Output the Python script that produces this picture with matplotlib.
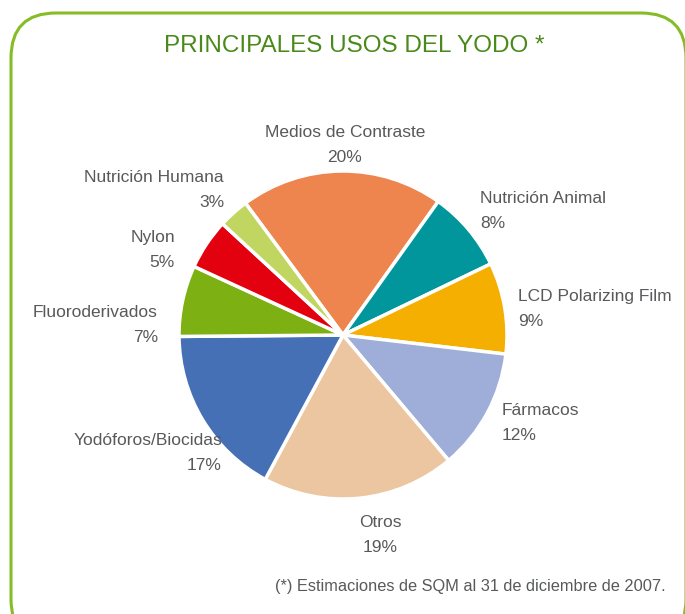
import matplotlib
matplotlib.use("Agg")
import matplotlib.pyplot as plt
from matplotlib.patches import FancyBboxPatch

# data
usos = [
    "Medios de Contraste",
    "Nutrición Animal",
    "LCD Polarizing Film",
    "Fármacos",
    "Otros",
    "Yodóforos/Biocidas",
    "Fluoroderivados",
    "Nylon",
    "Nutrición Humana",
]
porcentajes = [20, 8, 9, 12, 19, 17, 7, 5, 3]
colores = [
    "#EE854E", "#00969B", "#F5AF00", "#9EAED8", "#EBC6A0",
    "#4670B5", "#7CB013", "#E3000F", "#C0D660",
]

# label anchors (pixels, from top-left) and alignment
label_pos = [
    (345, 145, "center"),
    (480, 211, "left"),
    (518, 309, "left"),
    (502, 423, "left"),
    (380, 535, "center"),
    (222, 453, "right"),
    (158, 325, "right"),
    (175, 250, "right"),
    (224, 190, "right"),
]

W, H = 685, 614
fnt = ["Liberation Sans", "DejaVu Sans"]
gris = "#58595B"

fig = plt.figure(figsize=(W / 100, H / 100), dpi=100)
ax = fig.add_axes([0, 0, 1, 1])

ax.pie(
    porcentajes,
    colors=colores,
    startangle=126.5,
    counterclock=False,
    center=(343, H - 335),
    radius=164,
    wedgeprops=dict(edgecolor="white", linewidth=2.5),
)

for name, v, (x, y, ha) in zip(usos, porcentajes, label_pos):
    ax.text(x, H - y, f"{name}\n{v}%", ha=ha, va="center", multialignment=ha,
            fontsize=12.5, color=gris, family=fnt, linespacing=1.8)

ax.text(354, H - 46, "PRINCIPALES USOS DEL YODO *", ha="center", va="center",
        fontsize=17.5, color="#4A8A1A", family=fnt)
ax.text(666, H - 586, "(*) Estimaciones de SQM al 31 de diciembre de 2007.",
        ha="right", va="center", fontsize=11.8, color=gris, family=fnt)

ax.set_xlim(0, W)
ax.set_ylim(0, H)
ax.axis("off")

# rounded frame, drawn in figure pixels
frame = FancyBboxPatch((11, -30), 675, H - 13 + 30,
                       boxstyle="round,pad=0,rounding_size=45",
                       facecolor="none", edgecolor="#86BC25", linewidth=2.2,
                       transform=None)
fig.patches.append(frame)

fig.savefig("out.png", dpi=100)
